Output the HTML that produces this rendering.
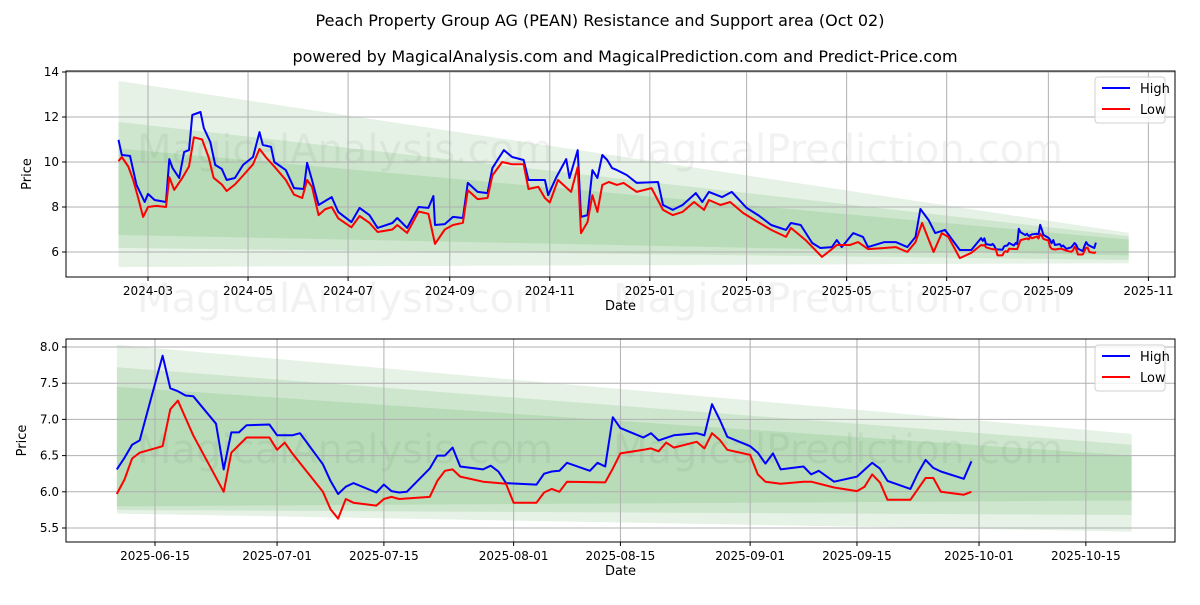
<!DOCTYPE html>
<html><head><meta charset="utf-8">
<style>
body{margin:0;background:#fff;font-family:"Liberation Sans","DejaVu Sans",sans-serif;}
svg text{font-family:"DejaVu Sans","Liberation Sans",sans-serif;}
</style></head>
<body>
<svg id="chart" width="1200" height="600" xmlns="http://www.w3.org/2000/svg">
<rect width="1200" height="600" fill="#fff"/>
<text x="600" y="26" text-anchor="middle" font-size="16">Peach Property Group AG (PEAN) Resistance and Support area (Oct 02)</text>
<text x="625" y="62" text-anchor="middle" font-size="16">powered by MagicalAnalysis.com and MagicalPrediction.com and Predict-Price.com</text>
<g id="top"></g>
<g id="bot"></g>
</svg>
<script>
// ---- TOP chart data (days since 2024-03-01) ----
const topHighDays=[-18,-16,-11,-7,-2,0,4,11,13,15,19,22,25,27,32,34,38,41,45,48,53,58,64,68,70,75,77,84,89,95,97,100,104,109,112,116,124,129,135,140,149,152,158,165,171,174,175,181,186,192,195,201,207,210,217,222,229,232,238,242,244,249,255,257,262,264,268,271,274,277,280,283,286,292,298,311,314,320,326,334,338,342,350,356,365,372,380,389,392,398,405,410,417,420,423,430,436,439,449,456,463,468,471,476,480,486,495,502,508];
const topHighVals=[10.98,10.31,10.27,8.98,8.22,8.58,8.31,8.22,10.13,9.73,9.29,10.44,10.53,12.09,12.22,11.51,10.89,9.87,9.69,9.2,9.29,9.87,10.22,11.33,10.76,10.67,10.0,9.64,8.84,8.8,9.96,9.2,8.09,8.31,8.44,7.78,7.33,7.96,7.64,7.07,7.29,7.51,7.07,8.0,7.96,8.49,7.2,7.24,7.56,7.51,9.07,8.67,8.62,9.73,10.53,10.22,10.09,9.2,9.2,9.2,8.53,9.33,10.13,9.29,10.53,7.56,7.64,9.64,9.29,10.31,10.09,9.73,9.64,9.42,9.07,9.11,8.09,7.87,8.09,8.62,8.22,8.67,8.44,8.67,7.96,7.64,7.2,6.98,7.29,7.2,6.4,6.18,6.22,6.53,6.22,6.84,6.67,6.22,6.44,6.44,6.22,6.67,7.91,7.42,6.84,6.98,6.09,6.09,6.62];
const topLowDays=[-18,-16,-12,-9,-6,-3,0,5,11,13,16,21,25,28,33,37,40,45,48,53,58,64,68,72,77,84,89,94,97,100,104,108,112,116,124,129,135,140,149,152,158,165,171,175,181,186,192,195,201,207,210,216,222,229,232,238,242,245,250,258,262,264,268,271,274,277,281,286,290,298,307,314,320,326,333,339,342,349,355,363,372,380,389,392,401,411,417,420,428,433,439,449,456,463,468,472,479,484,488,495,502,508];
const topLowVals=[10.04,10.22,9.8,9.2,8.4,7.56,8.0,8.05,8.0,9.33,8.76,9.3,9.8,11.1,11.0,10.2,9.3,9.0,8.71,9.0,9.4,9.9,10.58,10.2,9.8,9.2,8.55,8.4,9.2,8.9,7.64,7.9,8.0,7.5,7.1,7.6,7.3,6.89,7.0,7.2,6.85,7.8,7.7,6.36,7.0,7.2,7.3,8.75,8.35,8.4,9.4,10.0,9.9,9.9,8.8,8.9,8.4,8.2,9.2,8.67,9.78,6.84,7.33,8.53,7.78,8.98,9.11,8.98,9.07,8.67,8.84,7.87,7.64,7.78,8.22,7.87,8.31,8.09,8.22,7.73,7.33,6.98,6.67,7.07,6.53,5.78,6.13,6.31,6.31,6.44,6.13,6.18,6.22,6.0,6.44,7.29,6.0,6.84,6.67,5.73,5.96,6.31];
const topXTicks=["2024-03","2024-05","2024-07","2024-09","2024-11","2025-01","2025-03","2025-05","2025-07","2025-09","2025-11"];
const topXTickDays=[0,61,122,184,245,306,365,426,487,549,610];
const topYTicks=[6,8,10,12,14];
const topBand1=[13.6,6.85,5.33,5.5];
const topBand2=[11.78,6.7,6.18,5.65];
const topBand3=[10.6,6.55,6.76,5.85];
const topBandDays=[-18,598];

// ---- BOTTOM chart data (days since 2025-06-15) ----
const botHighDays=[-5,-4,-3,-2,1,2,3,4,5,8,9,10,11,12,15,16,18,19,22,23,24,25,26,29,30,31,32,33,36,37,38,39,40,43,44,45,46,50,51,52,53,54,57,58,59,60,61,64,65,66,68,71,72,73,74,75,78,79,80,81,82,85,86,87,89,92,94,95,96,99,100,101,102,103,106,107];
const botHighVals=[6.31,6.47,6.65,6.71,7.88,7.43,7.39,7.33,7.32,6.94,6.31,6.82,6.82,6.92,6.93,6.78,6.78,6.81,6.38,6.15,5.97,6.07,6.12,5.99,6.10,6.01,5.99,6.00,6.32,6.50,6.50,6.61,6.35,6.31,6.36,6.28,6.12,6.10,6.25,6.28,6.29,6.40,6.29,6.40,6.35,7.03,6.88,6.75,6.81,6.71,6.78,6.81,6.78,7.21,7.0,6.76,6.63,6.54,6.39,6.53,6.31,6.35,6.24,6.29,6.14,6.21,6.40,6.32,6.15,6.04,6.26,6.44,6.33,6.28,6.18,6.42];
const botLowDays=[-5,-4,-3,-2,1,2,3,5,9,10,12,15,16,17,18,22,23,24,25,26,29,30,31,32,36,37,38,39,40,43,44,46,47,50,51,52,53,54,59,60,61,64,65,66,67,68,71,72,73,74,75,78,79,80,82,85,86,89,92,93,94,95,96,99,101,102,103,106,107];
const botLowVals=[5.97,6.17,6.46,6.54,6.63,7.14,7.26,6.78,6.0,6.54,6.75,6.75,6.58,6.68,6.53,6.0,5.76,5.63,5.90,5.85,5.81,5.90,5.93,5.90,5.93,6.15,6.29,6.31,6.21,6.14,6.13,6.11,5.85,5.85,5.99,6.04,6.0,6.14,6.13,6.32,6.53,6.58,6.60,6.56,6.68,6.61,6.69,6.60,6.81,6.72,6.58,6.51,6.24,6.14,6.11,6.14,6.14,6.06,6.01,6.07,6.24,6.13,5.89,5.89,6.19,6.19,6.0,5.96,6.0];
const botXTicks=["2025-06-15","2025-07-01","2025-07-15","2025-08-01","2025-08-15","2025-09-01","2025-09-15","2025-10-01","2025-10-15"];
const botXTickDays=[0,16,30,47,61,78,92,108,122];
const botYTicks=[5.5,6.0,6.5,7.0,7.5,8.0];
const botBand1=[8.03,6.8,5.7,5.45];
const botBand2=[7.72,6.65,5.75,5.68];
const botBand3=[7.45,6.5,5.8,5.88];
const botBandDays=[-5,128];
const botToTopOffset=471; // 2025-06-15 is day 471 after 2024-03-01

const NS="http://www.w3.org/2000/svg";
function mk(parent,tag,attrs,text){const e=document.createElementNS(NS,tag);for(const k in attrs)e.setAttribute(k,attrs[k]);if(text!==undefined)e.textContent=text;parent.appendChild(e);return e;}

function extend(days,vals,bd,bv){
  const d=days.slice(),v=vals.slice(),last=days[days.length-1];
  bd.forEach((x,i)=>{const t=x+botToTopOffset;if(t>last){d.push(t);v.push(bv[i]);}});
  return [d,v];
}
const [tHD,tHV]=extend(topHighDays,topHighVals,botHighDays,botHighVals);
const [tLD,tLV]=extend(topLowDays,topLowVals,botLowDays,botLowVals);

function panel(g,cfg){
  const {L,R,T,B,x,y}=cfg;
  cfg.marks.forEach(m=>{
    const w=mk(g,'text',{x:m[0],y:m[1],'font-size':40,fill:'#000','fill-opacity':0.05,'text-anchor':'middle'},m[2]);
    
    
  });
  [cfg.b1,cfg.b2,cfg.b3].forEach((b,i)=>{
    const d0=cfg.bd[0],d1=cfg.bd[1];
    const p=mk(g,'polygon',{points:`${x(d0)},${y(b[0])} ${x(d1)},${y(b[1])} ${x(d1)},${y(b[3])} ${x(d0)},${y(b[2])}`,fill:'#008000','fill-opacity':0.1});
    
    
  });
  cfg.xtd.forEach((d,i)=>{
    const X=x(d);
    const l=mk(g,'line',{x1:X,x2:X,y1:T,y2:B,stroke:'#b0b0b0','stroke-width':1});
    
    
    mk(g,'line',{x1:X,x2:X,y1:B,y2:B+4,stroke:'#000'});
    const t=mk(g,'text',{x:X,y:B+18,'font-size':12,'text-anchor':'middle'},cfg.xt[i]);
    
    
  });
  cfg.yt.forEach(v=>{
    const Y=y(v);
    const l=mk(g,'line',{x1:L,x2:R,y1:Y,y2:Y,stroke:'#b0b0b0','stroke-width':1});
    
    
    mk(g,'line',{x1:L-4,x2:L,y1:Y,y2:Y,stroke:'#000'});
    const t=mk(g,'text',{x:L-7,y:Y+4,'font-size':12,'text-anchor':'end'},cfg.yfmt(v));
    
    
  });
  const line=(days,vals,col,name)=>{
    const pts=days.map((d,i)=>x(d).toFixed(1)+','+y(vals[i]).toFixed(1)).join(' ');
    const p=mk(g,'polyline',{points:pts,fill:'none',stroke:col,'stroke-width':2,'stroke-linejoin':'round'});
    
    
  };
  line(cfg.hd,cfg.hv,'#0000ff','high-line');
  line(cfg.ld,cfg.lv,'#ff0000','low-line');
  const fr=mk(g,'rect',{x:L,y:T,width:R-L,height:B-T,fill:'none',stroke:'#000','stroke-width':1});
  
  
  const xl=mk(g,'text',{x:(L+R)/2,y:B+33,'font-size':13,'text-anchor':'middle'},'Date');
  
  
  const yl=mk(g,'text',{x:0,y:0,'font-size':13,'text-anchor':'middle',transform:`translate(${cfg.ylx},${(T+B)/2}) rotate(-90)`},'Price');
  
  
  const lg=mk(g,'g',{});
  
  
  mk(lg,'rect',{x:R-80,y:T+6,width:70,height:46,rx:3,fill:'#fff','fill-opacity':0.8,stroke:'#d0d0d0'});
  [['High','#0000ff'],['Low','#ff0000']].forEach((e,i)=>{
    const ey=T+17+i*21;
    const le=mk(lg,'g',{});
    
    
    mk(le,'line',{x1:R-73,x2:R-45,y1:ey,y2:ey,stroke:e[1],'stroke-width':2});
    mk(le,'text',{x:R-35,y:ey+5,'font-size':13},e[0]);
  });
}

panel(document.getElementById('top'),{
  L:66,R:1175,T:71,B:277,
  x:d=>148+d*1.64, y:v=>252-(v-6)*22.5,
  hd:tHD,hv:tHV,ld:tLD,lv:tLV,
  xt:topXTicks,xtd:topXTickDays,yt:topYTicks,yfmt:v=>String(v),
  b1:topBand1,b2:topBand2,b3:topBand3,bd:topBandDays,ylx:31,
  marks:[[345,163,'MagicalAnalysis.com'],[838,163,'MagicalPrediction.com'],[345,312,'MagicalAnalysis.com'],[838,312,'MagicalPrediction.com']]
});
panel(document.getElementById('bot'),{
  L:66,R:1175,T:339,B:542,
  x:d=>155+d*7.63, y:v=>347+(8-v)*72.4,
  hd:botHighDays,hv:botHighVals,ld:botLowDays,lv:botLowVals,
  xt:botXTicks,xtd:botXTickDays,yt:botYTicks,yfmt:v=>v.toFixed(1),
  b1:botBand1,b2:botBand2,b3:botBand3,bd:botBandDays,ylx:26,
  marks:[[345,463,'MagicalAnalysis.com'],[838,463,'MagicalPrediction.com']]
});
</script>
</body></html>
